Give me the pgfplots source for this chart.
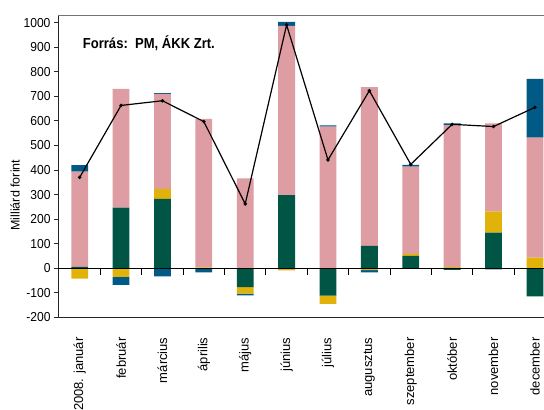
\documentclass[border=0pt]{standalone}
\usepackage{pgfplots}
\pgfplotsset{compat=1.18}
\usepackage{fontspec}
\setmainfont{Liberation Sans}
\newfontfamily\tickfont{Liberation Sans}[FakeStretch=0.93]
\newfontfamily\titlefont{Liberation Sans}[FakeStretch=0.9]
\definecolor{cgreen}{RGB}{0,85,68}
\definecolor{cyellow}{RGB}{224,178,10}
\definecolor{cpink}{RGB}{222,157,162}
\definecolor{cblue}{RGB}{0,90,133}
\begin{document}
\begin{tikzpicture}
\path[use as bounding box] (0,0) rectangle (544bp,410bp);
\pgfplotsset{common/.style={at={(58bp,92.7bp)}, anchor=south west, scale only axis,
  width=486bp, height=301.6bp, xmin=-0.524, xmax=11.22, ymin=-200, ymax=1028.5, clip=false}}
% positive stacks + frame
\begin{axis}[common, ybar stacked, bar width=16.8bp,
  axis line style={draw=none},
  ytick={-200,-100,...,1000}, ytick pos=left, ytick align=outside,
  major tick length=4bp, ytick style={black!85, line width=0.8pt},
  /pgf/number format/assume math mode=true,
  /pgf/number format/1000 sep={},
  yticklabel style={font=\tickfont\fontsize{13bp}{13bp}\selectfont},
  xtick={0,...,11},
  xticklabels={2008. január, február, március, április, május, június, július, augusztus, szeptember, október, november, december},
  xtick style={draw=none}, xtick pos=bottom,
  xticklabel style={rotate=90, anchor=east, inner sep=0pt, font=\fontsize{13bp}{13bp}\selectfont},
  xticklabel shift=20bp,
  every axis plot/.append style={draw=none}]
\addplot[fill=cgreen] coordinates {(0,5) (1,247) (2,282) (3,0) (4,0) (5,298) (6,0) (7,91) (8,50) (9,0) (10,145) (11,0)};
\addplot[fill=cyellow] coordinates {(0,0) (1,0) (2,41) (3,3) (4,0) (5,0) (6,0) (7,0) (8,8) (9,4) (10,86) (11,43)};
\addplot[fill=cpink] coordinates {(0,388) (1,483) (2,387) (3,605) (4,366) (5,689) (6,577) (7,647) (8,356) (9,579) (10,359) (11,489)};
\addplot[fill=cblue] coordinates {(0,27) (1,0) (2,3) (3,0) (4,0) (5,16) (6,5) (7,0) (8,7) (9,7) (10,0) (11,239)};
\draw[black!85, line width=0.8pt] (rel axis cs:0,0) -- (rel axis cs:0,1);
\draw[black!85, line width=0.8pt] (rel axis cs:0,0) -- (rel axis cs:1,0);
\draw[black!55, line width=1.6pt] (rel axis cs:0,1) -- (rel axis cs:1,1);
\node[rotate=90, font=\fontsize{12.5bp}{12.5bp}\selectfont] at ([xshift=-43bp]rel axis cs:0,0.405) {Milliárd forint};
\node[anchor=west, inner sep=0pt, font=\titlefont\bfseries\fontsize{14.5bp}{14.5bp}\selectfont] at ([xshift=24.7bp, yshift=-27.3bp]rel axis cs:0,1) {Forrás:\ \ PM, ÁKK Zrt.};
\end{axis}
% negative stacks
\begin{axis}[common, ybar stacked, bar width=16.8bp, hide axis,
  every axis plot/.append style={draw=none}]
\addplot[fill=cgreen] coordinates {(0,0) (1,0) (2,0) (3,0) (4,-77) (5,0) (6,-112) (7,0) (8,0) (9,-7) (10,0) (11,-115)};
\addplot[fill=cyellow] coordinates {(0,-42) (1,-35) (2,0) (3,0) (4,-27) (5,-9) (6,-33) (7,-8) (8,0) (9,0) (10,0) (11,0)};
\addplot[fill=cblue] coordinates {(0,0) (1,-33) (2,-33) (3,-17) (4,-7) (5,0) (6,0) (7,-9) (8,0) (9,0) (10,-5) (11,0)};
\end{axis}
% line, zero axis
\begin{axis}[common, hide axis]
\draw[black, line width=0.9pt] (axis cs:-0.524,0) -- (axis cs:11.22,0);
\addplot[black, line width=1.2pt, mark=*, mark size=1.1pt] coordinates {(0,370) (1,663) (2,682) (3,597) (4,262) (5,991) (6,441) (7,723) (8,423) (9,586) (10,577) (11,655)};
\end{axis}
% category separator ticks below the zero line (frame decoration)
\foreach \xx in {100.37,141.75,183.13,224.51,265.90,307.28,348.66,390.04,431.42,472.80,514.19}
  \draw[black, line width=1pt] (\xx bp,141.8bp) -- (\xx bp,134.6bp);
\end{tikzpicture}
\end{document}
